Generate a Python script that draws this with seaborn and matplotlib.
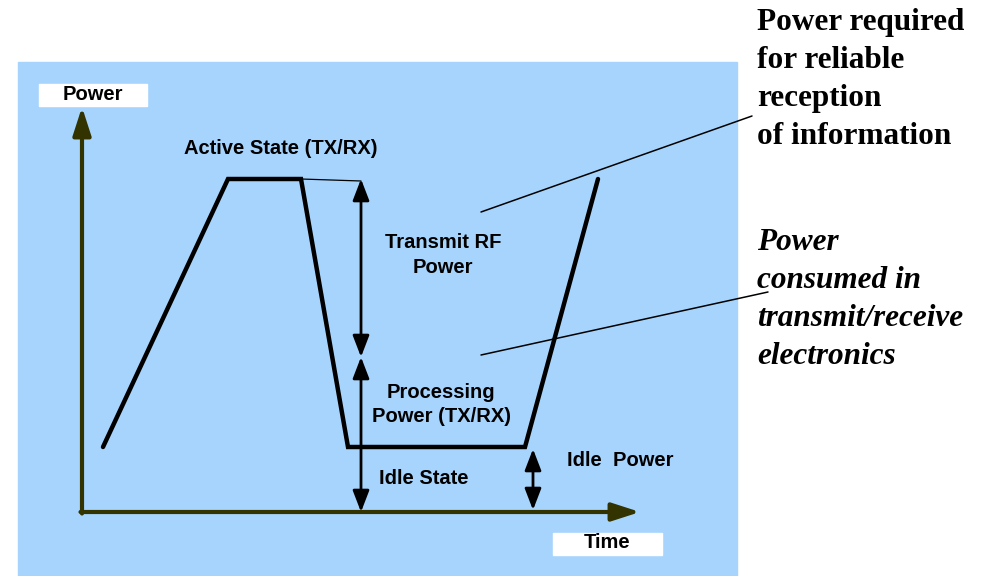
import numpy as np
import pandas as pd
import matplotlib
matplotlib.use('Agg')
import matplotlib.pyplot as plt
import seaborn as sns
from matplotlib.patches import Rectangle

# power trace of one radio duty cycle (time / power in diagram units)
trace_time = [21, 146, 219, 266, 443, 516]
trace_power = [65, 333, 333, 65, 65, 333]

idle_level = 65
active_level = 333
processing_level = 155
rf_arrow_time = 279
idle_arrow_time = 451

right_text_1 = ['Power required', 'for reliable', 'reception', 'of information']
right_text_2 = ['Power', 'consumed in', 'transmit/receive', 'electronics']

sns.set_style('white')
plt.rcParams['font.family'] = ['Liberation Sans', 'DejaVu Sans']
plt.rcParams['text.color'] = 'black'

fig = plt.figure(figsize=(9.9, 5.76), dpi=100)
ax = fig.add_axes([0, 0, 1, 1])
ax.set_xlim(-82, 908)
ax.set_ylim(-64, 512)
ax.axis('off')

blue = '#A6D4FC'
olive = '#333300'
ax.add_patch(Rectangle((-64, -64), 719, 514, color=blue, zorder=0))

# axis label boxes
ax.add_patch(Rectangle((-43, 406), 108, 22, color='white', zorder=1))
ax.add_patch(Rectangle((471, -43), 109, 22, color='white', zorder=1))
ax.text(11, 412, 'Power', ha='center', va='baseline', fontsize=14.5, fontweight='bold', zorder=2)
ax.text(525, -36, 'Time', ha='center', va='baseline', fontsize=14.5, fontweight='bold', zorder=2)

# axes arrows
axis_arrow = dict(arrowstyle='-|>,head_length=1.7,head_width=0.55', mutation_scale=10,
                  color=olive, lw=3, shrinkA=0, shrinkB=0)
ax.annotate('', xy=(0, 405), xytext=(0, -1.5), arrowprops=axis_arrow)
ax.annotate('', xy=(558, 0), xytext=(-1.5, 0), arrowprops=axis_arrow)

# trace
df = pd.DataFrame({'time': trace_time, 'power': trace_power})
sns.lineplot(data=df, x='time', y='power', sort=False, color='black', lw=3.2, ax=ax,
             solid_joinstyle='miter', solid_capstyle='round', zorder=3)

# measurement arrows
dbl = dict(arrowstyle='<|-|>,head_length=1.3,head_width=0.5', mutation_scale=10,
           color='black', lw=2, shrinkA=0, shrinkB=0)
ax.annotate('', xy=(rf_arrow_time, active_level), xytext=(rf_arrow_time, processing_level),
            arrowprops=dbl)
ax.annotate('', xy=(rf_arrow_time, processing_level), xytext=(rf_arrow_time, 0),
            arrowprops=dbl)
ax.annotate('', xy=(idle_arrow_time, idle_level - 2), xytext=(idle_arrow_time, 2),
            arrowprops=dbl)
ax.plot([trace_time[2], rf_arrow_time], [active_level, active_level - 2], color='black', lw=0.9)

# pointer lines to the right-hand notes
ax.plot([399, 670], [300, 396], color='black', lw=1.1, clip_on=False)
ax.plot([399, 686], [157, 220], color='black', lw=1.1, clip_on=False)

lab = dict(fontsize=14.5, fontweight='bold', va='baseline')
ax.text(199, 358, 'Active State (TX/RX)', ha='center', **lab)
ax.text(361, 264, 'Transmit RF', ha='center', **lab)
ax.text(361, 239, 'Power', ha='center', **lab)
ax.text(359, 114, 'Processing', ha='center', **lab)
ax.text(359, 90, 'Power (TX/RX)', ha='center', **lab)
ax.text(297, 28, 'Idle State', ha='left', **lab)
ax.text(485, 46, 'Idle  Power', ha='left', **lab)

serif = ['Liberation Serif', 'DejaVu Serif']
for i, line in enumerate(right_text_1):
    ax.text(675, 482 - 38 * i, line, ha='left', va='baseline', fontsize=22.5,
            fontweight='bold', family=serif)
for i, line in enumerate(right_text_2):
    ax.text(675, 262 - 38 * i, line, ha='left', va='baseline', fontsize=22.5,
            fontweight='bold', style='italic', family=serif)

fig.savefig('out.png', dpi=100)
